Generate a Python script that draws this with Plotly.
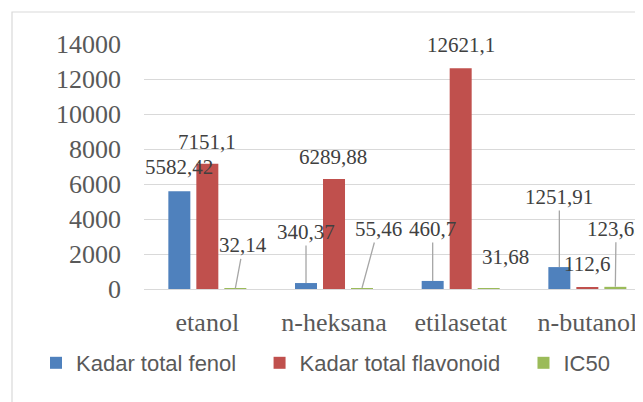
import plotly.graph_objects as go

categories = ["etanol", "n-heksana", "etilasetat", "n-butanol"]
fenol = [5582.42, 340.37, 460.7, 1251.91]
flavonoid = [7151.1, 6289.88, 12621.1, 112.6]
ic50 = [32.14, 55.46, 31.68, 123.63]
series_names = ["Kadar total fenol", "Kadar total flavonoid", "IC50"]
y_ticks = [0, 2000, 4000, 6000, 8000, 10000, 12000, 14000]

colors = ["#4F81BD", "#C0504D", "#9BBB59"]
series = [fenol, flavonoid, ic50]

# label placement (pixel offsets from bar top: dx right, dy up, leader line?)
label_pos = [
    [(0, 24, False), (0, 51, True), (0, 52, True), (0, 70, True)],
    [(0, 22, False), (-1.5, 22, False), (0, 23, False), (0, 23, False)],
    [(8, 43, True), (16, 59, True), (16.4, 31, False), (0.7, 58, True)],
]

PAGE = 8  # default body margin of the html page
W, H = 643 - PAGE, 402 - PAGE
L, T = 144 - PAGE, 44 - PAGE
plot_h = 245
B = H - T - plot_h
cat_px = 126.67
plot_w = W - L
slot = 28.0
bargap = 1 - 3 * slot / cat_px
bargroupgap = 1 - 22.0 / slot

fig = go.Figure()
pad = "\u00a0\u00a0\u00a0"
for name, vals, c in zip(series_names, series, colors):
    fig.add_trace(go.Bar(x=categories, y=vals, name=name + pad,
                         marker=dict(color=c, line=dict(width=0))))

label_font = dict(family="Liberation Serif", size=21, color="#404040")
annotations = []
for s, vals in enumerate(series):
    off = (s - 1) * slot / cat_px
    for i, v in enumerate(vals):
        dx, dy, leader = label_pos[s][i]
        txt = f"{v:g}".replace(".", ",")
        if leader:
            annotations.append(dict(x=i + off, y=v, xref="x", yref="y", text=txt,
                                    showarrow=True, arrowhead=0, arrowwidth=1.3,
                                    arrowcolor="#a6a6a6", standoff=0, startstandoff=0,
                                    ax=dx, ay=-dy, font=label_font))
        else:
            annotations.append(dict(x=i + off, y=v, xref="x", yref="y", text=txt,
                                    showarrow=False, xanchor="center", yanchor="middle",
                                    xshift=dx, yshift=dy, font=label_font))

# chart area border (Excel chart frame), cropped on right/bottom
bx0 = (12 - PAGE - L) / plot_w
by1 = (H - B - (12 - PAGE)) / plot_h
shapes = [dict(type="rect", xref="paper", yref="paper", x0=bx0, x1=1.3, y0=-0.7, y1=by1,
               line=dict(color="#d9d9d9", width=1.2), fillcolor="rgba(0,0,0,0)", layer="below")]

fig.update_layout(
    width=W, height=H,
    margin=dict(l=L, r=0, t=T, b=B, pad=0, autoexpand=False),
    paper_bgcolor="white", plot_bgcolor="white",
    barmode="group", bargap=bargap, bargroupgap=bargroupgap,
    showlegend=True,
    legend=dict(orientation="h", x=(28 - L) / plot_w, xanchor="left",
                y=(H - B - (363 - PAGE)) / plot_h, yanchor="middle",
                font=dict(family="Liberation Sans", size=22, color="#595959"),
                bgcolor="rgba(0,0,0,0)"),
    annotations=annotations,
    shapes=shapes,
    xaxis=dict(range=[-0.5, -0.5 + plot_w / cat_px], showgrid=False, showline=True,
               linecolor="#d9d9d9", linewidth=1.3, ticks="", ticklabelstandoff=10,
               automargin=False,
               tickfont=dict(family="Liberation Serif", size=26, color="#595959")),
    yaxis=dict(range=[0, 14000], tickvals=y_ticks, ticktext=[str(t) for t in y_ticks],
               showgrid=True, gridcolor="#d9d9d9",
               gridwidth=1.3, zeroline=False, showline=False, ticks="",
               ticklabelstandoff=22, automargin=False,
               tickfont=dict(family="Liberation Serif", size=26, color="#595959")),
)

fig.write_html("out.html")
